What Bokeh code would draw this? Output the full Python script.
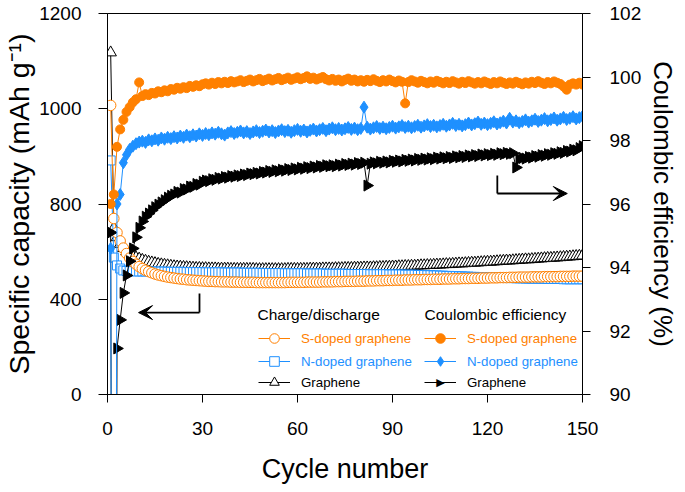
import math
from bokeh.plotting import figure
from bokeh.models import (Range1d, LinearAxis, FixedTicker, Legend, LegendItem,
                          Label, Arrow, VeeHead)
from bokeh.embed import file_html
from bokeh.resources import INLINE

# ---------------- data ----------------
cycles = list(range(1, 151))

# specific capacity (left axis units)
s_cap = [1214, 739, 680, 645, 615, 592, 573, 559, 547, 537,
         529, 522, 516, 511, 506, 502, 499, 496, 493, 491,
         489, 487, 485, 484, 482, 481, 480, 479, 478, 477,
         476, 475, 475, 474, 474, 473, 473, 473, 472, 472,
         472, 471, 471, 471, 471, 471, 470, 470, 470, 470,
         470, 470, 470, 470, 470, 470, 471, 471, 471, 471,
         471, 471, 472, 472, 472, 472, 472, 473, 473, 473,
         473, 474, 474, 474, 475, 475, 475, 475, 476, 476,
         476, 477, 477, 477, 478, 478, 478, 479, 479, 479,
         480, 480, 480, 481, 481, 481, 482, 482, 482, 483,
         483, 483, 484, 484, 484, 485, 485, 485, 486, 486,
         486, 487, 487, 487, 488, 488, 488, 489, 489, 489,
         490, 490, 490, 491, 491, 491, 492, 492, 492, 493,
         493, 493, 493, 494, 494, 494, 494, 495, 495, 495,
         495, 495, 496, 496, 496, 496, 497, 497, 497, 497]

n_cap = [983, 575, 542, 529, 521, 519, 518, 518, 517, 517,
         517, 517, 517, 516, 516, 516, 516, 516, 515, 515,
         515, 515, 515, 515, 514, 514, 514, 514, 514, 514,
         513, 513, 513, 513, 513, 513, 512, 512, 512, 512,
         512, 512, 511, 511, 511, 511, 511, 511, 510, 510,
         510, 510, 510, 510, 510, 509, 509, 509, 509, 509,
         509, 509, 508, 508, 508, 508, 508, 508, 507, 507,
         507, 507, 507, 507, 507, 506, 506, 506, 506, 506,
         506, 506, 505, 505, 505, 505, 505, 505, 504, 504,
         504, 504, 504, 503, 503, 503, 503, 502, 502, 502,
         501, 501, 500, 500, 499, 499, 498, 498, 497, 497,
         496, 496, 495, 495, 494, 494, 493, 493, 492, 492,
         491, 491, 490, 490, 490, 489, 489, 489, 488, 488,
         488, 487, 487, 487, 486, 486, 486, 486, 485, 485,
         485, 485, 485, 484, 484, 484, 484, 484, 484, 484]

g_cap = [1436, 700, 660, 632, 614, 600, 589, 581, 575, 570,
         565, 561, 557, 554, 551, 548, 546, 544, 542, 540,
         538, 537, 536, 535, 534, 533, 532, 531, 531, 530,
         530, 529, 529, 529, 528, 528, 528, 528, 527, 527,
         527, 527, 527, 527, 527, 527, 526, 526, 526, 526,
         526, 526, 526, 526, 526, 526, 527, 527, 527, 527,
         527, 527, 527, 528, 528, 528, 528, 529, 529, 529,
         529, 530, 530, 530, 531, 531, 531, 532, 532, 532,
         533, 533, 533, 534, 534, 535, 535, 536, 536, 537,
         537, 538, 538, 539, 539, 540, 540, 541, 542, 542,
         543, 543, 544, 545, 545, 546, 547, 547, 548, 549,
         550, 550, 551, 552, 553, 553, 554, 555, 556, 557,
         557, 558, 559, 560, 561, 562, 562, 563, 564, 565,
         566, 567, 567, 568, 569, 570, 571, 572, 573, 573,
         574, 575, 576, 577, 578, 579, 580, 581, 582, 583]

# coulombic efficiency (%)
s_ce = [96.00, 96.30, 97.80, 98.35, 98.65, 98.90, 99.05, 99.20, 99.30, 99.83,
        99.40, 99.46, 99.43, 99.50, 99.48, 99.55, 99.52, 99.58, 99.55, 99.62,
        99.60, 99.66, 99.63, 99.68, 99.65, 99.72, 99.69, 99.74, 99.71, 99.77,
        99.80, 99.76, 99.82, 99.78, 99.84, 99.80, 99.85, 99.81, 99.87, 99.83,
        99.86, 99.90, 99.84, 99.88, 99.92, 99.86, 99.90, 99.94, 99.87, 99.91,
        99.95, 99.89, 99.93, 99.97, 99.90, 99.94, 99.98, 99.91, 99.95, 99.99,
        99.93, 99.97, 100.02, 99.94, 99.98, 99.92, 99.96, 100.00, 99.93, 99.89,
        99.94, 99.88, 99.92, 99.86, 99.91, 99.95, 99.88, 99.92, 99.86, 99.90,
        99.85, 99.91, 99.87, 99.93, 99.88, 99.84, 99.90, 99.86, 99.92, 99.87,
        99.83, 99.89, 99.85, 99.17, 99.84, 99.90, 99.86, 99.82, 99.88, 99.84,
        99.80, 99.86, 99.82, 99.88, 99.84, 99.80, 99.85, 99.81, 99.87, 99.83,
        99.79, 99.85, 99.81, 99.87, 99.83, 99.79, 99.84, 99.80, 99.86, 99.82,
        99.78, 99.84, 99.80, 99.86, 99.82, 99.78, 99.83, 99.79, 99.85, 99.81,
        99.77, 99.83, 99.79, 99.85, 99.81, 99.87, 99.82, 99.78, 99.84, 99.80,
        99.86, 99.82, 99.78, 99.70, 99.60, 99.76, 99.80, 99.76, 99.82, 99.76]

n_ce = [94.60, 60.00, 96.00, 96.30, 97.30, 97.55, 97.72, 97.82, 97.90, 97.95,
        97.98, 97.94, 98.02, 97.99, 98.05, 98.01, 98.08, 98.04, 98.10, 98.06,
        98.12, 98.08, 98.14, 98.10, 98.17, 98.12, 98.18, 98.14, 98.21, 98.16,
        98.22, 98.18, 98.24, 98.20, 98.26, 98.21, 98.17, 98.24, 98.28, 98.22,
        98.26, 98.30, 98.24, 98.28, 98.22, 98.27, 98.31, 98.25, 98.29, 98.33,
        98.27, 98.31, 98.25, 98.30, 98.34, 98.28, 98.32, 98.26, 98.31, 98.35,
        98.29, 98.33, 98.27, 98.32, 98.36, 98.30, 98.34, 98.38, 98.31, 98.36,
        98.40, 98.34, 98.38, 98.33, 98.37, 98.41, 98.35, 98.39, 98.34, 98.38,
        99.05, 98.42, 98.36, 98.40, 98.44, 98.38, 98.42, 98.37, 98.41, 98.45,
        98.39, 98.43, 98.47, 98.41, 98.45, 98.40, 98.44, 98.48, 98.42, 98.46,
        98.50, 98.44, 98.48, 98.43, 98.47, 98.51, 98.45, 98.49, 98.54, 98.47,
        98.51, 98.46, 98.50, 98.55, 98.49, 98.53, 98.58, 98.51, 98.55, 98.50,
        98.54, 98.59, 98.52, 98.56, 98.61, 98.55, 98.70, 98.58, 98.62, 98.56,
        98.60, 98.65, 98.58, 98.62, 98.67, 98.60, 98.64, 98.69, 98.62, 98.66,
        98.71, 98.64, 98.68, 98.73, 98.66, 98.70, 98.75, 98.68, 98.72, 98.76]

g_ce = [95.10, 60.00, 91.45, 92.35, 93.20, 93.75, 94.20, 94.60, 94.95, 95.25,
        95.45, 95.60, 95.70, 95.80, 95.90, 95.98, 96.05, 96.12, 96.20, 96.26,
        96.30, 96.38, 96.36, 96.47, 96.46, 96.55, 96.54, 96.63, 96.61, 96.70,
        96.74, 96.72, 96.78, 96.76, 96.82, 96.80, 96.85, 96.83, 96.88, 96.86,
        96.90, 96.88, 96.93, 96.91, 96.96, 96.94, 96.98, 96.96, 97.01, 96.99,
        97.04, 97.01, 97.06, 97.03, 97.08, 97.05, 97.10, 97.07, 97.12, 97.09,
        97.14, 97.11, 97.16, 97.13, 97.18, 97.15, 97.20, 97.17, 97.22, 97.19,
        97.22, 97.19, 97.24, 97.21, 97.26, 97.23, 97.27, 97.24, 97.29, 97.26,
        97.30, 96.58, 97.27, 97.31, 97.28, 97.33, 97.30, 97.34, 97.31, 97.36,
        97.33, 97.37, 97.34, 97.39, 97.36, 97.40, 97.37, 97.42, 97.39, 97.43,
        97.40, 97.44, 97.41, 97.46, 97.43, 97.47, 97.44, 97.48, 97.45, 97.50,
        97.47, 97.51, 97.48, 97.53, 97.50, 97.54, 97.51, 97.56, 97.53, 97.57,
        97.54, 97.58, 97.55, 97.60, 97.57, 97.61, 97.58, 97.60, 97.15, 97.42,
        97.45, 97.43, 97.48, 97.46, 97.51, 97.49, 97.54, 97.52, 97.57, 97.55,
        97.60, 97.58, 97.63, 97.61, 97.67, 97.65, 97.71, 97.69, 97.76, 97.82]

x_ticks = [0, 30, 60, 90, 120, 150]
cap_ticks = [0, 400, 800, 1200, 1600]
cap_tick_labels = {0: "0", 400: "400", 800: "800", 1200: "1000", 1600: "1200"}
ce_ticks = [90, 92, 94, 96, 98, 100, 102]

series_names = ["S-doped graphene", "N-doped graphene", "Graphene"]

# annotation arrows (data coordinates)
left_arrow = dict(x_corner=29.05, y_top=424, y_corner=344, x_tip=9.8)
right_arrow = dict(x_corner=123.1, y_top=96.9, y_corner=96.33, x_tip=145.2)

# ---------------- style ----------------
ORANGE = "#FF8000"
BLUE = "#1E90FF"
BLACK = "#000000"
FONT = "Liberation Sans"
TICK_FS = "19px"

p = figure(width=685, height=492, x_range=Range1d(0, 150), y_range=Range1d(0, 1600),
           output_backend="svg", toolbar_location=None,
           min_border_left=107, min_border_right=103, min_border_top=13, min_border_bottom=98)
p.extra_y_ranges = {"ce": Range1d(90, 102)}
p.xgrid.visible = False
p.ygrid.visible = False
p.outline_line_color = "black"
p.outline_line_width = 1
p.background_fill_color = "white"
p.border_fill_color = "white"

right_axis = LinearAxis(y_range_name="ce")
p.add_layout(right_axis, "right")

def style_axis(ax, ticks, label, label_fs, tick_out, standoff, label_standoff):
    ax.ticker = FixedTicker(ticks=ticks)
    ax.axis_label = label
    ax.axis_line_color = "black"
    ax.axis_line_width = 1
    ax.major_tick_line_color = "black"
    ax.major_tick_out = tick_out
    ax.major_tick_in = 0
    ax.minor_tick_out = 0
    ax.minor_tick_in = 0
    ax.major_label_text_font = FONT
    ax.major_label_text_font_size = TICK_FS
    ax.major_label_text_color = "black"
    ax.major_label_standoff = standoff
    ax.axis_label_text_font = FONT
    ax.axis_label_text_font_size = label_fs
    ax.axis_label_text_font_style = "normal"
    ax.axis_label_text_color = "black"
    ax.axis_label_standoff = label_standoff

xax = p.xaxis[0]
yax = p.yaxis[0]
style_axis(xax, x_ticks, "Cycle number", "27px", 8, 19, 16)
style_axis(yax, cap_ticks, "Specific capacity (mAh g\u207b\u00b9)", "28.5px", 9, 17, 1)
yax.major_label_overrides = cap_tick_labels
style_axis(right_axis, ce_ticks, "Coulombic efficiency (%)", "26px", 8, 19, 4)

# ---------------- capacity (open markers) ----------------
g_cap_line = p.line(cycles, g_cap, line_color=BLACK, line_width=1)
g_cap_mk = p.scatter(cycles, g_cap, marker="triangle", size=11.5, line_color=BLACK,
                     fill_color="white", line_width=1)
n_cap_line = p.line(cycles, n_cap, line_color=BLUE, line_width=1)
n_cap_mk = p.scatter(cycles, n_cap, marker="square", size=9, line_color=BLUE,
                     fill_color="white", line_width=1)
s_cap_line = p.line(cycles, s_cap, line_color=ORANGE, line_width=1)
s_cap_mk = p.scatter(cycles, s_cap, marker="circle", size=10.5, line_color=ORANGE,
                     fill_color="white", line_width=1)

# ---------------- coulombic efficiency (filled markers) ----------------
g_ce_line = p.line(cycles, g_ce, line_color=BLACK, line_width=1, y_range_name="ce")
g_ce_mk = p.scatter(cycles, g_ce, marker="triangle", angle=-math.pi / 2, size=11,
                    line_color=BLACK, fill_color=BLACK, y_range_name="ce")
n_ce_line = p.line(cycles, n_ce, line_color=BLUE, line_width=1, y_range_name="ce")
n_ce_mk = p.scatter(cycles, n_ce, marker="diamond", size=12, line_color=BLUE,
                    fill_color=BLUE, y_range_name="ce")
s_ce_line = p.line(cycles, s_ce, line_color=ORANGE, line_width=1, y_range_name="ce")
s_ce_mk = p.scatter(cycles, s_ce, marker="circle", size=9, line_color=ORANGE,
                    fill_color=ORANGE, y_range_name="ce")

# ---------------- arrows ----------------
p.add_layout(Arrow(x_start=left_arrow["x_corner"], y_start=left_arrow["y_top"],
                   x_end=left_arrow["x_corner"], y_end=left_arrow["y_corner"],
                   line_width=1.8, line_color="black", end=None))
p.add_layout(Arrow(x_start=left_arrow["x_corner"], y_start=left_arrow["y_corner"],
                   x_end=left_arrow["x_tip"], y_end=left_arrow["y_corner"],
                   line_width=1.8, line_color="black",
                   end=VeeHead(size=14, fill_color="black", line_color="black")))
p.add_layout(Arrow(x_start=right_arrow["x_corner"], y_start=right_arrow["y_top"],
                   x_end=right_arrow["x_corner"], y_end=right_arrow["y_corner"],
                   line_width=1.8, line_color="black", end=None, y_range_name="ce"))
p.add_layout(Arrow(x_start=right_arrow["x_corner"], y_start=right_arrow["y_corner"],
                   x_end=right_arrow["x_tip"], y_end=right_arrow["y_corner"],
                   line_width=1.8, line_color="black", y_range_name="ce",
                   end=VeeHead(size=14, fill_color="black", line_color="black")))

# ---------------- legend ----------------
def add_leg(renderers, text, color, x, y):
    leg = Legend(items=[LegendItem(label=text, renderers=renderers)], location=(x, y),
                 glyph_width=32, glyph_height=24, label_standoff=11, padding=0, margin=0,
                 spacing=0, label_height=24, background_fill_alpha=0, border_line_alpha=0,
                 label_text_color=color, label_text_font=FONT,
                 label_text_font_size="13.3px")
    p.add_layout(leg)

LEG_LEFT_X, LEG_RIGHT_X = 151, 317
rows_y = [44, 21, 0]
left_items = [([s_cap_line, s_cap_mk], ORANGE), ([n_cap_line, n_cap_mk], BLUE),
              ([g_cap_line, g_cap_mk], BLACK)]
# the legend swatch of a marker is never rotated, so the right-pointing
# triangle of the graphene efficiency swatch is added as a text glyph below
right_items = [([s_ce_line, s_ce_mk], ORANGE), ([n_ce_line, n_ce_mk], BLUE),
               ([g_ce_line], BLACK)]
for (rs, c), name, yy in zip(left_items, series_names, rows_y):
    add_leg(rs, name, c, LEG_LEFT_X, yy)
for (rs, c), name, yy in zip(right_items, series_names, rows_y):
    add_leg(rs, name, c, LEG_RIGHT_X, yy)

p.add_layout(Label(x=LEG_RIGHT_X + 16, y=rows_y[2] + 12, x_units="screen", y_units="screen",
                   text="\u25b6", text_font="DejaVu Sans", text_font_size="11px",
                   text_color="black", text_align="center", text_baseline="middle"))

for txt, xx in [("Charge/discharge", 150), ("Coulombic efficiency", 317)]:
    p.add_layout(Label(x=xx, y=80, x_units="screen", y_units="screen", text=txt,
                       text_font=FONT, text_font_size="15.5px", text_color="black",
                       text_baseline="middle", text_align="left"))

open("out.html", "w").write(file_html(p, INLINE))
